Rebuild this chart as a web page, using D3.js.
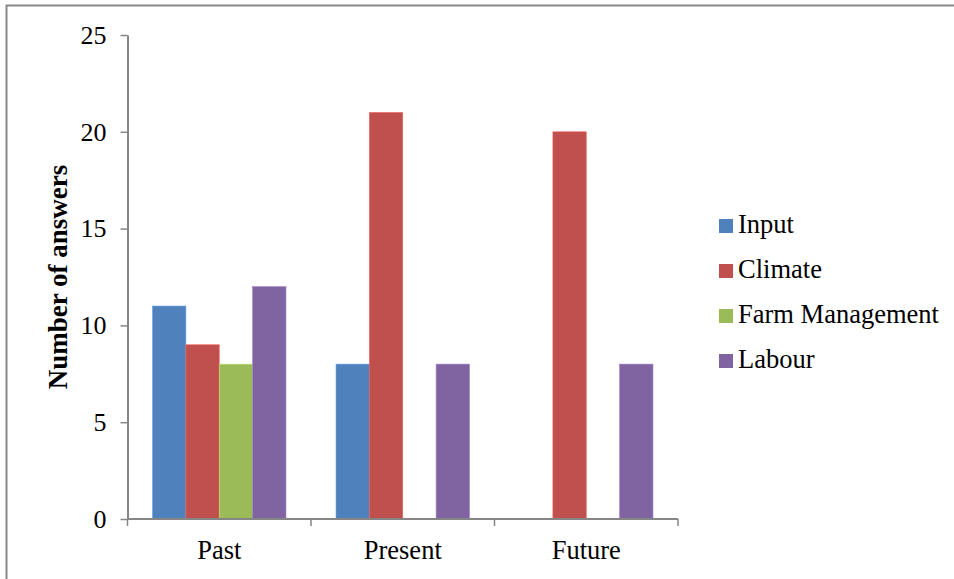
<!DOCTYPE html>
<html>
<head>
<meta charset="utf-8">
<script src="https://cdn.jsdelivr.net/npm/d3@7"></script>
<style>
  body { margin: 0; background: #fff; }
</style>
</head>
<body>
<svg></svg>
<script>
const width = 954;
const height = 579;
const serif = "'Liberation Serif', 'Times New Roman', Times, serif";

const periods = ["Past", "Present", "Future"];
const seriesNames = ["Input", "Climate", "Farm Management", "Labour"];
const input = [11, 8, 0];
const climate = [9, 21, 20];
const farmManagement = [8, 0, 0];
const labour = [12, 8, 8];
const yTicks = [0, 5, 10, 15, 20, 25];
const colors = ["#4F81BD", "#C0504D", "#9BBB59", "#8064A2"];

const seriesValues = [input, climate, farmManagement, labour];

const margin = { left: 127.5, right: 276, top: 35, bottom: 60 };

const svg = d3.select("svg")
    .attr("width", width)
    .attr("height", height)
    .style("font-family", serif);

// chart area border (right and bottom run off the picture)
svg.append("rect")
    .attr("x", 6.5)
    .attr("y", 5.5)
    .attr("width", width + 10)
    .attr("height", height + 10)
    .attr("fill", "none")
    .attr("stroke", "#878787")
    .attr("stroke-width", 2);

const x0 = d3.scaleBand()
    .domain(periods)
    .range([margin.left, width - margin.right])
    .paddingInner(0)
    .paddingOuter(0);

// gap width 150%: 4 bars + 1.5 bar widths of gap per category
const x1 = d3.scaleBand()
    .domain(seriesNames)
    .range([0, x0.bandwidth()])
    .paddingInner(0)
    .paddingOuter(0.75);

const y = d3.scaleLinear()
    .domain([0, 25])
    .range([height - margin.bottom, margin.top]);

const groups = svg.selectAll(".period")
    .data(periods)
    .enter().append("g")
    .attr("class", "period")
    .attr("transform", d => `translate(${x0(d)},0)`);

groups.selectAll("rect")
    .data((p, i) => seriesNames.map((s, j) => ({ series: s, value: seriesValues[j][i], color: colors[j] })))
    .enter().append("rect")
    .filter(d => d.value > 0)
    .attr("x", d => x1(d.series))
    .attr("y", d => y(d.value))
    .attr("width", x1.bandwidth())
    .attr("height", d => y(0) - y(d.value))
    .attr("fill", d => d.color)
    .attr("stroke", d => d3.color(d.color).brighter(0.6))
    .attr("stroke-width", 0.6);

// y axis
const yAxis = svg.append("g")
    .attr("transform", `translate(${margin.left},0)`)
    .call(d3.axisLeft(y).tickValues(yTicks).tickSize(7).tickPadding(14).tickSizeOuter(0))
    .attr("font-family", serif)
    .attr("font-size", 26);
yAxis.select(".domain").attr("stroke", "#868686").attr("stroke-width", 2);
yAxis.selectAll(".tick line").attr("stroke", "#868686").attr("stroke-width", 1.5);
yAxis.selectAll(".tick text")
    .style("font-family", serif)
    .attr("fill", "#000");

// x axis with ticks between categories
const xAxis = svg.append("g")
    .attr("transform", `translate(0,${height - margin.bottom})`);
xAxis.append("line")
    .attr("x1", margin.left)
    .attr("x2", width - margin.right)
    .attr("stroke", "#868686")
    .attr("stroke-width", 2);
const boundaries = periods.map(p => x0(p)).concat([x0(periods[periods.length - 1]) + x0.bandwidth()]);
xAxis.selectAll(".xtick")
    .data(boundaries)
    .enter().append("line")
    .attr("x1", d => d)
    .attr("x2", d => d)
    .attr("y1", 0)
    .attr("y2", 7)
    .attr("stroke", "#868686")
    .attr("stroke-width", 1.5);
xAxis.selectAll(".xlabel")
    .data(periods)
    .enter().append("text")
    .attr("x", d => x0(d) + x0.bandwidth() / 2)
    .attr("y", 40)
    .attr("text-anchor", "middle")
    .style("font-family", serif)
    .attr("font-size", 26.5)
    .text(d => d);

// y axis title
svg.append("text")
    .attr("transform", `translate(67,277) rotate(-90)`)
    .attr("text-anchor", "middle")
    .style("font-family", serif)
    .attr("font-size", 27)
    .attr("font-weight", "bold")
    .text("Number of answers");

// legend
const legend = svg.append("g")
    .attr("transform", "translate(719,219)");

const legendItem = legend.selectAll(".legend-item")
    .data(seriesNames)
    .enter().append("g")
    .attr("class", "legend-item")
    .attr("transform", (d, i) => `translate(0,${i * 45})`);

legendItem.append("rect")
    .attr("width", 14)
    .attr("height", 14)
    .attr("fill", (d, i) => colors[i]);

legendItem.append("text")
    .attr("x", 19)
    .attr("y", 14)
    .style("font-family", serif)
    .attr("font-size", 26.5)
    .text(d => d);
</script>
</body>
</html>
